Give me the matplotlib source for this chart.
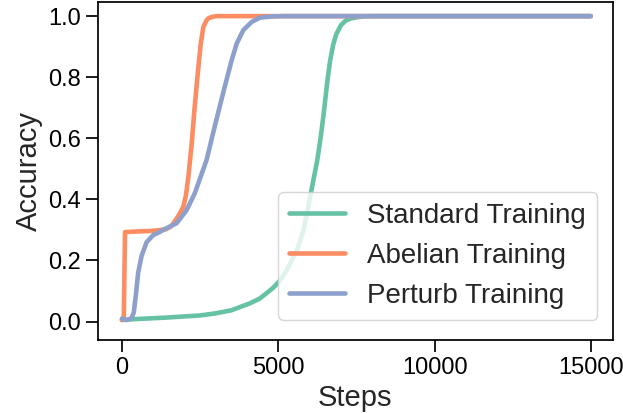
import matplotlib
matplotlib.use("Agg")
import matplotlib.pyplot as plt

# Training steps / accuracy.
standard_steps = [0, 400, 1400, 2500, 3000, 3500, 4100, 4400, 4650, 4850, 5060,
                  5250, 5400, 5600, 5810, 6030, 6240, 6350, 6450, 6560, 6650, 6750,
                  6850, 7000, 7150, 7300, 7500, 7750, 8000, 10000, 14990]
standard_acc = [0.005, 0.008, 0.013, 0.02, 0.027, 0.037, 0.06, 0.075, 0.095, 0.112,
                0.135, 0.165, 0.195, 0.235, 0.3, 0.415, 0.525, 0.6, 0.68, 0.78,
                0.85, 0.905, 0.94, 0.97, 0.985, 0.992, 0.996, 0.999, 1.0, 1.0, 1.0]

abelian_steps = [0, 60, 100, 500, 1000, 1400, 1550, 1650, 1800, 1965, 2050, 2125,
                 2233, 2318, 2414, 2522, 2606, 2700, 2766, 2900, 3035, 5000, 10000,
                 14990]
abelian_acc = [0.005, 0.01, 0.293, 0.295, 0.297, 0.302, 0.31, 0.322, 0.345, 0.376,
               0.415, 0.474, 0.584, 0.693, 0.80, 0.911, 0.965, 0.985, 0.993, 0.998,
               1.0, 1.0, 1.0, 1.0]

perturb_steps = [0, 150, 300, 380, 450, 520, 630, 790, 1000, 1200, 1430, 1750, 2070,
                 2330, 2710, 2970, 3240, 3510, 3670, 3880, 4150, 4410, 4800, 5200,
                 10000, 14990]
perturb_acc = [0.01, 0.005, 0.01, 0.03, 0.09, 0.16, 0.215, 0.26, 0.283, 0.293,
               0.306, 0.322, 0.365, 0.42, 0.53, 0.64, 0.75, 0.856, 0.91, 0.954,
               0.981, 0.995, 0.999, 1.0, 1.0, 1.0]

labels = ["Standard Training", "Abelian Training", "Perturb Training"]
colors = ["#66c2a5", "#fc8d62", "#8da0cb"]  # Set2

plt.rcParams["font.family"] = ["Liberation Sans", "DejaVu Sans"]

fig = plt.figure(figsize=(6.23, 4.13), dpi=100)
ax = fig.add_axes([0.157, 0.177, 0.827, 0.818])

series = [(standard_steps, standard_acc), (abelian_steps, abelian_acc),
          (perturb_steps, perturb_acc)]
for (xs, ys), lab, col in zip(series, labels, colors):
    ax.plot(xs, ys, color=col, lw=3.3, label=lab, solid_capstyle="round",
            solid_joinstyle="round")

ax.set_xlim(-770, 15700)
ax.set_ylim(-0.06, 1.046)
ax.set_xticks([0, 5000, 10000, 15000])
ax.set_yticks([0.0, 0.2, 0.4, 0.6, 0.8, 1.0])
ax.set_yticklabels(["0.0", "0.2", "0.4", "0.6", "0.8", "1.0"])

ax.tick_params(labelsize=17, length=8.5, width=1.25, colors="black")
for sp in ax.spines.values():
    sp.set_linewidth(1.25)

ax.set_xlabel("Steps", fontsize=21, color="#262626")
ax.set_ylabel("Accuracy", fontsize=21, color="#262626")

leg = ax.legend(loc="lower right", bbox_to_anchor=(0.969, 0.059), borderaxespad=0,
                fontsize=20, frameon=True, framealpha=0.8, labelspacing=0.5)
for t in leg.get_texts():
    t.set_color("#262626")

fig.savefig("out.png", dpi=100)
